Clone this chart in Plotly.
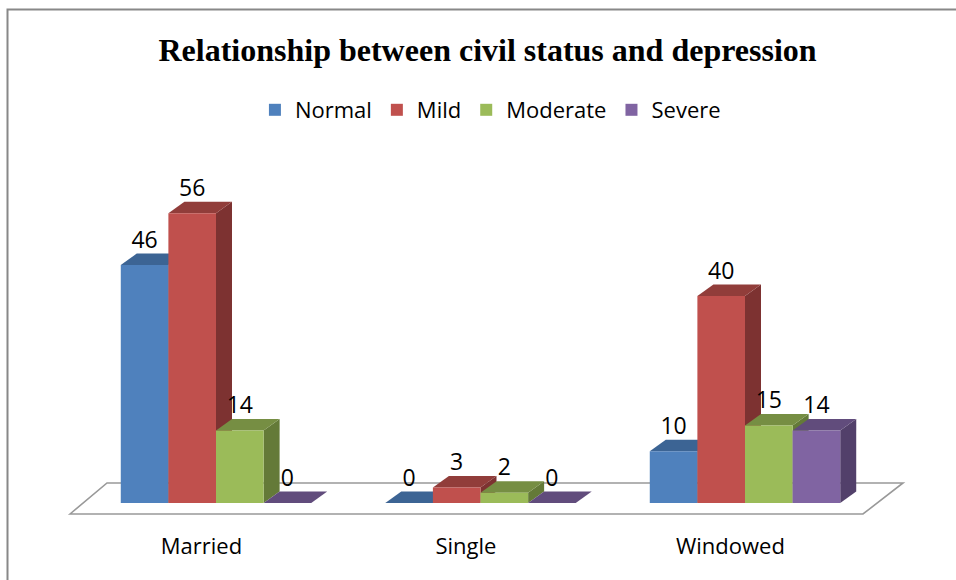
import plotly.graph_objects as go

# ---- data -------------------------------------------------------------
categories = ["Married", "Single", "Windowed"]
series = ["Normal", "Mild", "Moderate", "Severe"]
normal = [46, 0, 10]
mild = [56, 3, 40]
moderate = [14, 2, 15]
severe = [0, 0, 14]
values = [normal, mild, moderate, severe]

# ---- styling ----------------------------------------------------------
front_colors = ["#4F81BD", "#C0504D", "#9BBB59", "#8064A2"]
top_colors = ["#3C6494", "#913D3A", "#768E43", "#614C7C"]
side_colors = ["#345682", "#7D3231", "#647A38", "#52406A"]

W, H = 956, 580
# pixel geometry of the value / category scales
PX_PER_VALUE = 5.173        # vertical pixels per unit of value
PX_PER_CAT = 264.5          # horizontal pixels between category centres
BASE_PX = 503               # pixel row of value 0 (front edge)
MID_CAT_PX = 480.5          # pixel column of the middle category
DEPTH_DX_PX, DEPTH_DY_PX = 16, 11.5   # oblique depth offset of the 3D faces

y0 = -(H - BASE_PX) / PX_PER_VALUE
y1 = y0 + H / PX_PER_VALUE
x0 = 1 - MID_CAT_PX / PX_PER_CAT
x1 = x0 + W / PX_PER_CAT

ddx = DEPTH_DX_PX / PX_PER_CAT
ddy = DEPTH_DY_PX / PX_PER_VALUE

GROUP_WIDTH = 0.72
bar_w = GROUP_WIDTH / len(series)


def px_x(p):
    return (p - MID_CAT_PX) / PX_PER_CAT + 1


def px_y(p):
    return (BASE_PX - p) / PX_PER_VALUE


def poly(pts):
    return "M " + " L ".join(f"{x:.5f},{y:.5f}" for x, y in pts) + " Z"


shapes = []

# floor plate under the bars
floor = [(px_x(70), px_y(514)), (px_x(107), px_y(483)),
         (px_x(903), px_y(483)), (px_x(863), px_y(514))]
shapes.append(dict(type="path", xref="x", yref="y", layer="below",
                   path=poly(floor), fillcolor="white",
                   line=dict(color="#999999", width=1.6)))

# side and top faces, painted left to right
for ci in range(len(categories)):
    for si in range(len(series)):
        v = values[si][ci]
        xl = ci - GROUP_WIDTH / 2 + si * bar_w
        xr = xl + bar_w
        if v > 0:
            side = [(xr, 0), (xr, v), (xr + ddx, v + ddy), (xr + ddx, ddy)]
            shapes.append(dict(type="path", xref="x", yref="y", layer="below",
                               path=poly(side), fillcolor=side_colors[si],
                               line=dict(width=0)))
        top = [(xl, v), (xr, v), (xr + ddx, v + ddy), (xl + ddx, v + ddy)]
        shapes.append(dict(type="path", xref="x", yref="y", layer="below",
                           path=poly(top), fillcolor=top_colors[si],
                           line=dict(width=0)))

# chart frame
fx = 7.5 / W
fy = 1 - 9.5 / H
shapes.append(dict(type="path", xref="paper", yref="paper",
                   path=f"M {fx},0 L {fx},{fy} L 1,{fy}",
                   line=dict(color="#888888", width=2)))

fig = go.Figure()

# front faces of the bars
for si, name in enumerate(series):
    fig.add_trace(go.Bar(
        x=list(range(len(categories))), y=values[si], name=name,
        marker=dict(color=front_colors[si], line=dict(width=0)),
        hoverinfo="skip",
    ))

# value labels above each bar
for si, name in enumerate(series):
    xs = [ci - GROUP_WIDTH / 2 + (si + 0.5) * bar_w for ci in range(len(categories))]
    ys = [v + ddy for v in values[si]]
    fig.add_trace(go.Scatter(
        x=xs, y=ys, mode="text", text=[str(v) for v in values[si]],
        textposition="top center", showlegend=False, hoverinfo="skip",
        textfont=dict(family="Open Sans", size=23, color="black"),
    ))

# category labels under the floor
fig.add_trace(go.Scatter(
    x=[ci - 0.055 for ci in range(len(categories))],
    y=[px_y(548)] * len(categories), mode="text", text=categories,
    textposition="middle center", showlegend=False, hoverinfo="skip",
    textfont=dict(family="Open Sans", size=22, color="black"),
))

fig.update_layout(
    width=W, height=H,
    margin=dict(l=0, r=0, t=0, b=0),
    paper_bgcolor="white", plot_bgcolor="white",
    barmode="group", bargap=1 - GROUP_WIDTH, bargroupgap=0,
    xaxis=dict(range=[x0, x1], visible=False, fixedrange=True),
    yaxis=dict(range=[y0, y1], visible=False, fixedrange=True),
    title=dict(text="<b>Relationship between civil status and depression</b>",
               x=0.51, xanchor="center", y=1 - 50 / H, yanchor="middle",
               font=dict(family="Liberation Serif", size=32, color="black")),
    legend=dict(orientation="h", x=0.513, xanchor="center",
                y=1 - 110 / H, yanchor="middle",
                font=dict(family="Open Sans", size=22, color="black"),
                itemclick=False, itemdoubleclick=False),
    shapes=shapes,
    showlegend=True,
)

fig.write_html("out.html")
